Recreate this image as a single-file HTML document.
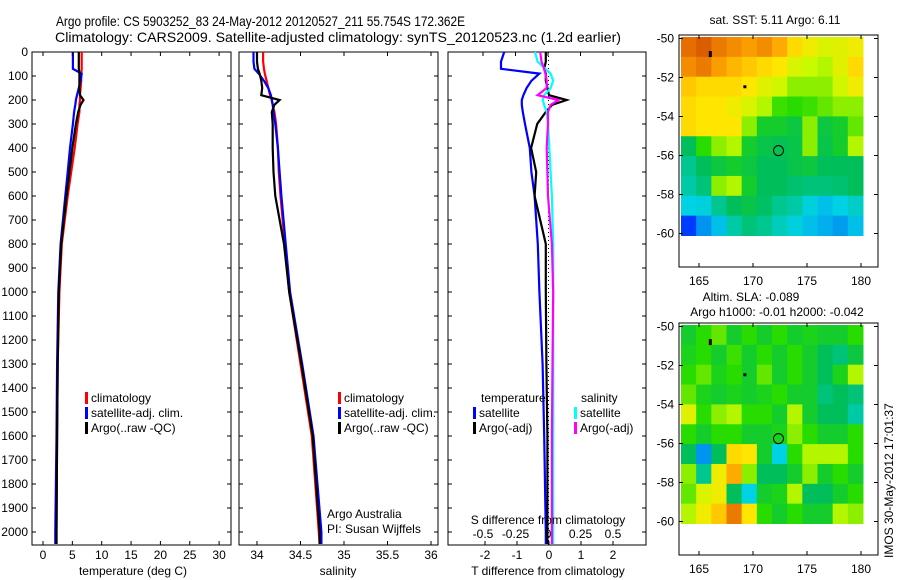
<!DOCTYPE html>
<html><head><meta charset="utf-8"><style>
body{margin:0;background:#fff;}
svg{display:block;font-family:"Liberation Sans",sans-serif;}
text{font-size:12px;fill:#000;}
</style></head><body>
<svg id="c" width="900" height="580">
<text x="56" y="26" textLength="409" lengthAdjust="spacingAndGlyphs" style="font-size:14px">Argo profile: CS 5903252_83 24-May-2012 20120527_211 55.754S 172.362E</text>
<text x="55" y="42" textLength="566" lengthAdjust="spacingAndGlyphs" style="font-size:14px">Climatology: CARS2009. Satellite-adjusted climatology: synTS_20120523.nc (1.2d earlier)</text>
</svg>
<script>
const depths=[0,40,70,90,120,150,180,200,220,250,300,400,500,600,800,1000,1300,1600,2000,2050];
const tempClim=[6.6,6.6,6.6,6.5,6.5,6.4,6.3,6.3,6.2,6.2,5.9,5.4,4.8,4.2,3.2,2.8,2.5,2.4,2.3,2.3];
const tempSat=[5.1,5.1,5.1,6.6,6.4,6.1,5.8,5.6,5.5,5.3,5.1,4.6,4.2,3.8,3.0,2.6,2.4,2.3,2.1,2.1];
const tempArgo=[6.1,6.1,6.1,6.2,6.2,6.2,6.3,6.9,6.4,6.0,5.6,5.0,4.5,4.0,3.1,2.7,2.5,2.4,2.3,2.3];
const salClim=[34.07,34.07,34.08,34.09,34.11,34.13,34.15,34.17,34.18,34.2,34.22,34.24,34.25,34.27,34.32,34.37,34.5,34.63,34.71,34.72];
const salSat=[33.96,33.96,33.97,34.02,34.08,34.13,34.16,34.17,34.18,34.19,34.21,34.24,34.26,34.28,34.33,34.38,34.52,34.65,34.74,34.74];
const salArgo=[34.0,34.0,34.01,34.03,34.05,34.06,34.05,34.26,34.2,34.17,34.18,34.18,34.19,34.21,34.31,34.37,34.51,34.64,34.72,34.72];
const tDiffSat=[-1.4,-1.5,-1.5,-0.3,-0.55,-0.7,-0.8,-0.85,-0.85,-0.82,-0.75,-0.6,-0.55,-0.45,-0.35,-0.3,-0.2,-0.15,-0.1,-0.1];
const tDiffArgo=[-0.1,-0.1,-0.15,-0.1,-0.1,-0.05,0.0,0.55,0.1,-0.1,-0.37,-0.56,-0.4,-0.45,-0.1,-0.1,-0.08,-0.05,-0.05,-0.05];
const sDiffSat=[-0.1,-0.08,-0.02,0.02,0.04,0.02,-0.03,-0.04,-0.03,-0.01,0.0,0.01,0.02,0.03,0.04,0.04,0.04,0.04,0.04,0.04];
const sDiffArgo=[-0.06,-0.05,-0.03,-0.02,-0.01,-0.01,-0.08,0.08,0.02,0.0,0.0,-0.01,-0.005,0.0,0.03,0.04,0.035,0.03,0.03,0.03];
const depthTicks=[0,100,200,300,400,500,600,700,800,900,1000,1100,1200,1300,1400,1500,1600,1700,1800,1900,2000];
const tempTicks=[0,5,10,15,20,25,30];
const salTicks=[34,34.5,35,35.5,36];
const tdTicks=[-2,-1,0,1,2];
const sdTicks=[-0.5,-0.25,0,0.25,0.5];
const sstGrid=[
[0.9,0.92,0.88,0.85,0.82,0.85,0.8,0.72,0.68,0.65,0.66,0.68],
[0.85,0.88,0.82,0.78,0.75,0.72,0.7,0.65,0.63,0.62,0.66,0.72],
[0.75,0.72,0.72,0.72,0.7,0.66,0.64,0.6,0.6,0.6,0.64,0.68],
[0.72,0.7,0.7,0.68,0.65,0.62,0.56,0.55,0.56,0.58,0.6,0.6],
[0.72,0.7,0.7,0.7,0.6,0.5,0.5,0.48,0.6,0.48,0.5,0.58],
[0.45,0.55,0.6,0.62,0.5,0.47,0.46,0.47,0.6,0.47,0.5,0.62],
[0.4,0.45,0.48,0.5,0.48,0.45,0.45,0.47,0.48,0.45,0.45,0.45],
[0.38,0.42,0.6,0.62,0.5,0.45,0.45,0.43,0.42,0.42,0.43,0.45],
[0.32,0.33,0.4,0.45,0.47,0.44,0.4,0.38,0.33,0.3,0.32,0.35],
[0.15,0.25,0.3,0.38,0.42,0.4,0.36,0.33,0.3,0.28,0.26,0.3]];
const slaGrid=[
[0.5,0.55,0.58,0.5,0.55,0.5,0.55,0.5,0.52,0.5,0.5,0.55],
[0.52,0.55,0.5,0.56,0.5,0.55,0.5,0.55,0.5,0.45,0.42,0.48],
[0.55,0.58,0.52,0.55,0.5,0.58,0.5,0.55,0.5,0.45,0.52,0.62],
[0.58,0.52,0.5,0.52,0.5,0.52,0.55,0.5,0.5,0.42,0.45,0.42],
[0.66,0.55,0.6,0.62,0.55,0.55,0.5,0.62,0.5,0.45,0.45,0.38],
[0.55,0.5,0.55,0.55,0.5,0.5,0.52,0.6,0.55,0.5,0.5,0.55],
[0.45,0.25,0.45,0.72,0.7,0.5,0.32,0.55,0.62,0.62,0.62,0.55],
[0.6,0.4,0.68,0.8,0.6,0.45,0.45,0.5,0.6,0.5,0.55,0.5],
[0.58,0.65,0.68,0.45,0.32,0.5,0.52,0.62,0.45,0.45,0.5,0.55],
[0.62,0.68,0.75,0.88,0.7,0.55,0.5,0.55,0.5,0.5,0.62,0.6]];

const svg=document.getElementById('c');
const NS='http://www.w3.org/2000/svg';
function mk(tag,attrs,parent){const e=document.createElementNS(NS,tag);for(const k in attrs)e.setAttribute(k,attrs[k]);(parent||svg).appendChild(e);return e;}
const Y0=52,PY=0.24,BOT=545;
const yD=d=>Y0+d*PY;

function panel(x0,x1,name){
  const g=mk('g',{});
  
  
  mk('rect',{x:x0,y:Y0,width:x1-x0,height:BOT-Y0,fill:'none',stroke:'#000','stroke-width':1},g);
  depthTicks.forEach(d=>{
    mk('line',{x1:x0,x2:x0+4,y1:yD(d),y2:yD(d),stroke:'#000'},g);
    mk('line',{x1:x1-4,x2:x1,y1:yD(d),y2:yD(d),stroke:'#000'},g);
  });
  return g;
}
function series(g,vals,xf,color,name,w){
  const p=mk('polyline',{points:vals.map((v,i)=>xf(v).toFixed(1)+','+yD(depths[i]).toFixed(1)).join(' '),fill:'none',stroke:color,'stroke-width':w||2.2},g);
  
  
}
function xticks(g,ticks,xf,y,label,top){
  ticks.forEach(t=>{
    const x=xf(t);
    mk('line',{x1:x,x2:x,y1:BOT-4,y2:BOT,stroke:'#000'},g);
    if(top)mk('line',{x1:x,x2:x,y1:Y0,y2:Y0+4,stroke:'#000'},g);
    const tx=mk('text',{x:x,y:y,'text-anchor':'middle'},g);tx.textContent=label?label(t):t;
    
    
  });
}
function legend(g,x,y,items){
  items.forEach((it,i)=>{
    mk('rect',{x:x,y:y+i*15-10,width:3,height:12,fill:it[0]},g);
    const t=mk('text',{x:x+6,y:y+i*15},g);t.textContent=it[1];
    
    
  });
}
const yl=mk('g',{});


depthTicks.forEach(d=>{const t=mk('text',{x:28,y:yD(d)+4,'text-anchor':'end'},yl);t.textContent=d;});

const xT=v=>43+v*5.87;
const g1=panel(32,231,'temperature-panel');
series(g1,tempClim,xT,'#f00','temp-climatology-line');
series(g1,tempSat,xT,'#00f','temp-satellite-line');
series(g1,tempArgo,xT,'#000','temp-argo-line');
xticks(g1,tempTicks,xT,559,null,true);
let t=mk('text',{x:133,y:575,'text-anchor':'middle'},g1);t.textContent='temperature (deg C)';

legend(g1,85,402,[['#f00','climatology'],['#00f','satellite-adj. clim.'],['#000','Argo(..raw -QC)']]);

const xS=v=>257+(v-34)*87;
const g2=panel(239,438,'salinity-panel');
series(g2,salClim,xS,'#f00','sal-climatology-line');
series(g2,salSat,xS,'#00f','sal-satellite-line');
series(g2,salArgo,xS,'#000','sal-argo-line');
xticks(g2,salTicks,xS,559,null,true);
t=mk('text',{x:338,y:575,'text-anchor':'middle'},g2);t.textContent='salinity';

legend(g2,338,402,[['#f00','climatology'],['#00f','satellite-adj. clim.'],['#000','Argo(..raw -QC)']]);
t=mk('text',{x:327,y:518},g2);t.textContent='Argo Australia';

t=mk('text',{x:327,y:533},g2);t.textContent='PI: Susan Wijffels';


const xTD=v=>549+v*32;
const xSD=v=>548+v*130;
const g3=panel(448,646,'difference-panel');
for(let y=Y0;y<BOT;y+=4)mk('rect',{x:548,y:y,width:1,height:1,fill:'#000'},g3);
series(g3,tDiffSat,xTD,'#00f','tdiff-satellite-line');
series(g3,tDiffArgo,xTD,'#000','tdiff-argo-line');
series(g3,sDiffSat,xSD,'#0ff','sdiff-satellite-line');
series(g3,sDiffArgo,xSD,'#f0f','sdiff-argo-line');
xticks(g3,tdTicks,xTD,559,null,false);
sdTicks.forEach(v=>{const x=xSD(v);mk('line',{x1:x,x2:x,y1:Y0,y2:Y0+4,stroke:'#000'},g3);
 const s=mk('text',{x:x,y:538,'text-anchor':'middle'},g3);s.textContent=v;
 });
t=mk('text',{x:548,y:524,'text-anchor':'middle'},g3);t.textContent='S difference from climatology';

t=mk('text',{x:548,y:575,'text-anchor':'middle'},g3);t.textContent='T difference from climatology';

t=mk('text',{x:481,y:402},g3);t.textContent='temperature';

t=mk('text',{x:581,y:402},g3);t.textContent='salinity';

legend(g3,473,417,[['#00f','satellite'],['#000','Argo(-adj)']]);
legend(g3,574,417,[['#0ff','satellite'],['#f0f','Argo(-adj)']]);

function cmap(v){
  const stops=[[0,[0,0,140]],[0.15,[0,60,255]],[0.32,[0,210,230]],[0.45,[0,190,90]],[0.55,[40,220,0]],[0.63,[200,250,0]],[0.7,[255,230,0]],[0.8,[255,170,0]],[0.9,[230,110,0]],[1,[170,30,0]]];
  for(let i=1;i<stops.length;i++){if(v<=stops[i][0]){const a=stops[i-1],b=stops[i],f=(v-a[0])/(b[0]-a[0]);return 'rgb('+a[1].map((c,k)=>Math.round(c+(b[1][k]-c)*f)).join(',')+')';}}
  return 'rgb(170,30,0)';
}
function map(top,grid,name,titles){
  const g=mk('g',{});
  
  
  const latY=l=>top+3.5+(-50-l)*19.5;
  const lonX=l=>699+(l-165)*10.8;
  const x0=681,x1=863,y0=top+2,y1=latY(-60)+2;
  const nr=grid.length,nc=grid[0].length,cw=(x1-x0)/nc,ch=(y1-y0)/nr;
  grid.forEach((row,r)=>row.forEach((v,c)=>{
    const cell=mk('rect',{x:x0+c*cw,y:y0+r*ch,width:cw+0.5,height:ch+0.5,fill:cmap(v)},g);
    
    
  }));
  mk('rect',{x:679,y:top,width:199,height:232,fill:'none',stroke:'#000'},g);
  [-50,-52,-54,-56,-58,-60].forEach(l=>{const y=latY(l);
    mk('line',{x1:679,x2:683,y1:y,y2:y,stroke:'#000'},g);mk('line',{x1:874,x2:878,y1:y,y2:y,stroke:'#000'},g);
    const s=mk('text',{x:674,y:y+4,'text-anchor':'end'},g);s.textContent=l;});
  [165,170,175,180].forEach(l=>{const x=lonX(l);
    mk('line',{x1:x,x2:x,y1:top+228,y2:top+232,stroke:'#000'},g);mk('line',{x1:x,x2:x,y1:top,y2:top+4,stroke:'#000'},g);
    const s=mk('text',{x:x,y:top+250,'text-anchor':'middle'},g);s.textContent=l;});
  mk('circle',{cx:lonX(172.36),cy:latY(-55.75),r:5,fill:'none',stroke:'#000'},g);
  mk('rect',{x:lonX(166)-1,y:latY(-50.8)-3,width:3,height:6,fill:'#000'},g);
  mk('rect',{x:lonX(169.2)-1,y:latY(-52.5)-2,width:3,height:3,fill:'#000'},g);
  titles.forEach((tt,i)=>{const s=mk('text',{x:tt[1],y:tt[2],'text-anchor':'middle'},g);s.textContent=tt[0];
    });
}
map(35,sstGrid,'sst-map',[['sat. SST: 5.11  Argo: 6.11',775,24]]);
map(323,slaGrid,'sla-map',[['Altim. SLA: -0.089',751,301],['Argo h1000: -0.01 h2000: -0.042',777,316]]);
t=mk('text',{x:893,y:558,transform:'rotate(-90 893 558)'});t.textContent='IMOS 30-May-2012 17:01:37';

</script>
</body></html>
